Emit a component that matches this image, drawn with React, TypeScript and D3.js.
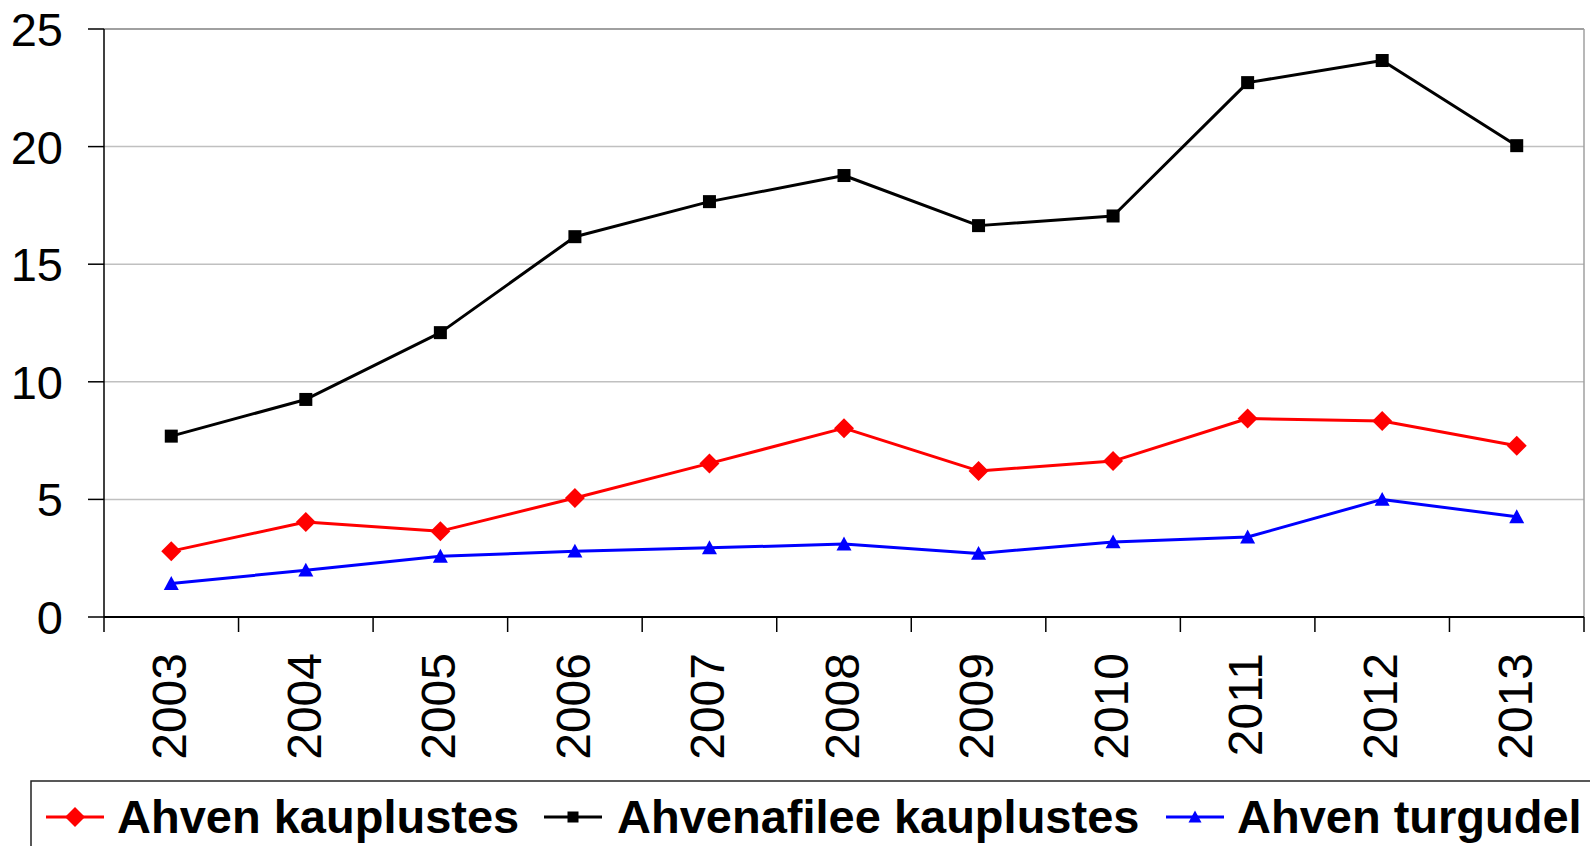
import React from "react";
import * as d3 from "d3";

const years = ["2003", "2004", "2005", "2006", "2007", "2008", "2009", "2010", "2011", "2012", "2013"];
const ahvenKauplustes = [2.8, 4.04, 3.65, 5.06, 6.53, 8.03, 6.21, 6.63, 8.44, 8.33, 7.28];
const ahvenafileeKauplustes = [7.69, 9.25, 12.09, 16.17, 17.66, 18.77, 16.64, 17.05, 22.72, 23.66, 20.04];
const ahvenTurgudel = [1.42, 1.99, 2.58, 2.8, 2.94, 3.1, 2.7, 3.19, 3.4, 5.0, 4.26];
const yTicks = [0, 5, 10, 15, 20, 25];

const seriesNames = ["Ahven kauplustes", "Ahvenafilee kauplustes", "Ahven turgudel"];
const seriesColors = ["#ff0000", "#000000", "#0000ff"];
const seriesShapes = ["diamond", "square", "triangle"];
const seriesValues = [ahvenKauplustes, ahvenafileeKauplustes, ahvenTurgudel];

const W = 1590;
const H = 846;
const left = 104;
const right = 1584;
const top = 29;
const bottom = 617;
const FONT = "'Liberation Sans', Arial, sans-serif";

function Marker({ shape, color, x, y, s }: { shape: string; color: string; x: number; y: number; s: number }) {
  if (shape === "diamond") {
    const r = s / 2;
    return <path d={`M${x},${y - r}L${x + r},${y}L${x},${y + r}L${x - r},${y}Z`} fill={color} />;
  }
  if (shape === "square") {
    const r = s / 2;
    return <rect x={x - r} y={y - r} width={s} height={s} fill={color} />;
  }
  const r = s / 2;
  return <path d={`M${x},${y - r}L${x + r},${y + r * 0.85}L${x - r},${y + r * 0.85}Z`} fill={color} />;
}

export default function App() {
  const x = d3.scaleBand<string>().domain(years).range([left, right]);
  const y = d3.scaleLinear().domain([0, 25]).range([bottom, top]);
  const cx = (yr: string) => (x(yr) as number) + x.bandwidth() / 2;
  const line = d3
    .line<number>()
    .x((_, i) => cx(years[i]))
    .y((v) => y(v));

  const boundaries = years.map((yr) => x(yr) as number).concat([right]);
  const markerSizes = [20, 13, 15];

  const legendItems = [
    { lx: 46, tx: 117 },
    { lx: 544, tx: 617 },
    { lx: 1166, tx: 1237 },
  ];
  const legendMarkerSizes = [20, 11, 13];

  return (
    <svg width={W} height={H} style={{ position: "absolute", left: 0, top: 0, background: "#fff" }} fontFamily={FONT}>
      <rect x={0} y={0} width={W} height={H} fill="#fff" />
      {/* gridlines */}
      {yTicks.filter((t) => t > 0 && t < 25).map((t) => (
        <line key={t} x1={left} x2={right} y1={y(t)} y2={y(t)} stroke="#c0c0c0" strokeWidth={1.5} />
      ))}
      {/* plot border */}
      <line x1={left} x2={right} y1={y(25)} y2={y(25)} stroke="#808080" strokeWidth={1.5} />
      <line x1={right} x2={right} y1={top} y2={bottom} stroke="#a0a0a0" strokeWidth={1.5} />
      {/* axes */}
      <line x1={left} x2={left} y1={top} y2={bottom} stroke="#000" strokeWidth={1.5} />
      <line x1={left} x2={right} y1={bottom} y2={bottom} stroke="#000" strokeWidth={2} />
      {yTicks.map((t) => (
        <g key={t}>
          <line x1={88} x2={left} y1={y(t)} y2={y(t)} stroke="#000" strokeWidth={1.5} />
          <text x={63} y={y(t)} dy="0.36em" textAnchor="end" fontSize={47} fill="#000">
            {t}
          </text>
        </g>
      ))}
      {boundaries.map((b, i) => (
        <line key={i} x1={b} x2={b} y1={bottom} y2={632} stroke="#000" strokeWidth={1.5} />
      ))}
      {years.map((yr) => (
        <text
          key={yr}
          transform={`translate(${cx(yr) - 2.5},653) rotate(-90)`}
          dy="0.36em"
          textAnchor="end"
          fontSize={48}
          fill="#000"
        >
          {yr}
        </text>
      ))}
      {/* series */}
      {seriesValues.map((vals, si) => (
        <g key={si}>
          <path d={line(vals) as string} fill="none" stroke={seriesColors[si]} strokeWidth={3} strokeLinejoin="round" />
          {vals.map((v, i) => (
            <Marker key={i} shape={seriesShapes[si]} color={seriesColors[si]} x={cx(years[i])} y={y(v)} s={markerSizes[si]} />
          ))}
        </g>
      ))}
      {/* legend */}
      <rect x={31} y={781} width={1600} height={120} fill="#fff" stroke="#222" strokeWidth={1.5} />
      {legendItems.map((it, i) => (
        <g key={i}>
          <line x1={it.lx} x2={it.lx + 58} y1={817} y2={817} stroke={seriesColors[i]} strokeWidth={3} />
          <Marker shape={seriesShapes[i]} color={seriesColors[i]} x={it.lx + 29} y={817} s={legendMarkerSizes[i]} />
          <text x={it.tx} y={833} fontSize={47} fontWeight="bold" fill="#000">
            {seriesNames[i]}
          </text>
        </g>
      ))}
    </svg>
  );
}
